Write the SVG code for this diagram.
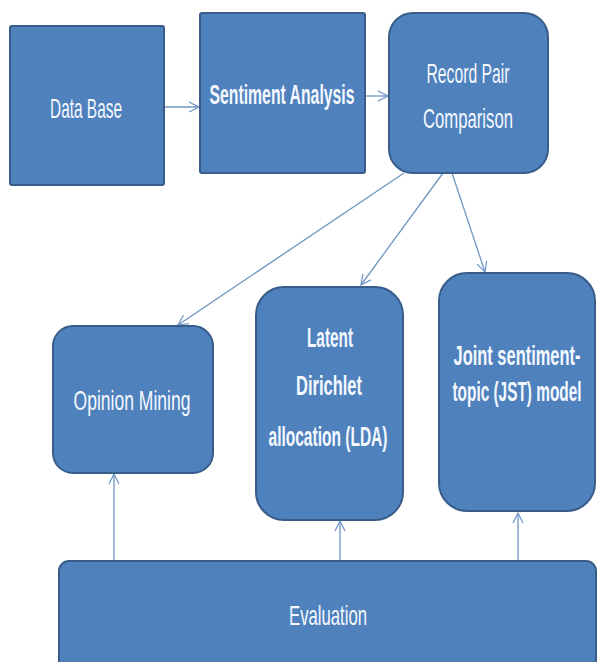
<svg xmlns="http://www.w3.org/2000/svg" width="597" height="662" viewBox="0 0 597 662">
  <defs>
    <marker id="arr" viewBox="0 0 12 12" refX="11" refY="6" markerWidth="12" markerHeight="12" markerUnits="userSpaceOnUse" orient="auto">
      <path d="M1,1 L11,6 L1,11" fill="none" stroke="#6f94c4" stroke-width="1.2"/>
    </marker>
    <style>
      .box { fill: #4f81bd; stroke: #385d8a; stroke-width: 2; }
      .lbl { fill: #f4f8ff; font-family: "Liberation Sans", "Noto Sans", sans-serif; font-size: 28px; text-anchor: middle; }
      .b { font-weight: bold; }
      .con { stroke: #6f94c4; stroke-width: 1.3; fill: none; marker-end: url(#arr); }
    </style>
  </defs>
  <rect width="597" height="662" fill="#ffffff"/>

  <g id="connectors">
    <line class="con" x1="164" y1="107" x2="199" y2="107"/>
    <line class="con" x1="365" y1="96" x2="388" y2="96"/>
    <line class="con" x1="404" y1="173" x2="178" y2="325"/>
    <line class="con" x1="443" y1="173" x2="361" y2="285"/>
    <line class="con" x1="452" y1="173" x2="485" y2="272"/>
    <line class="con" x1="114" y1="561" x2="114" y2="474"/>
    <line class="con" x1="340" y1="561" x2="340" y2="521"/>
    <line class="con" x1="518" y1="561" x2="518" y2="513"/>
  </g>

  <g id="database">
    <rect class="box" x="10" y="26" width="154" height="159" rx="2"/>
    <text class="lbl" x="86" y="118" textLength="72" lengthAdjust="spacingAndGlyphs">Data Base</text>
  </g>

  <g id="sentiment-analysis">
    <rect class="box" x="200" y="13" width="165" height="160" rx="2"/>
    <text class="lbl b" x="282" y="104" textLength="145" lengthAdjust="spacingAndGlyphs">Sentiment Analysis</text>
  </g>

  <g id="record-pair">
    <rect class="box" x="389" y="13" width="159" height="160" rx="24"/>
    <text class="lbl" x="468" y="83" textLength="83" lengthAdjust="spacingAndGlyphs">Record Pair</text>
    <text class="lbl" x="468" y="128" textLength="90" lengthAdjust="spacingAndGlyphs">Comparison</text>
  </g>

  <g id="opinion-mining">
    <rect class="box" x="53" y="326" width="160" height="147" rx="20"/>
    <text class="lbl" x="132" y="410" textLength="117" lengthAdjust="spacingAndGlyphs">Opinion Mining</text>
  </g>

  <g id="lda">
    <rect class="box" x="256" y="287" width="147" height="233" rx="28"/>
    <text class="lbl b" x="330" y="347" textLength="46" lengthAdjust="spacingAndGlyphs">Latent</text>
    <text class="lbl b" x="329" y="395" textLength="66" lengthAdjust="spacingAndGlyphs">Dirichlet</text>
    <text class="lbl b" x="328" y="446" textLength="119" lengthAdjust="spacingAndGlyphs">allocation (LDA)</text>
  </g>

  <g id="jst">
    <rect class="box" x="439" y="273" width="156" height="238" rx="28"/>
    <text class="lbl b" x="517" y="365" textLength="127" lengthAdjust="spacingAndGlyphs">Joint sentiment-</text>
    <text class="lbl b" x="517" y="401" textLength="129" lengthAdjust="spacingAndGlyphs">topic (JST) model</text>
  </g>

  <g id="evaluation">
    <rect class="box" x="59" y="561" width="537" height="110" rx="10"/>
    <text class="lbl" x="328" y="625" textLength="78" lengthAdjust="spacingAndGlyphs">Evaluation</text>
  </g>
</svg>
